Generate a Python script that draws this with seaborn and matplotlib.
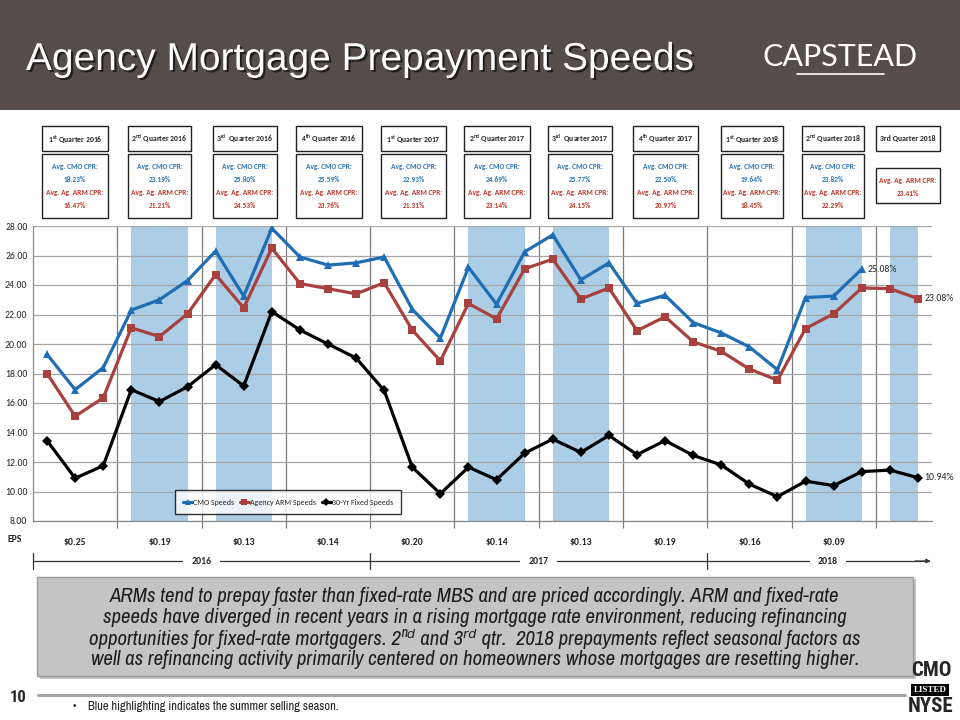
import numpy as np
import pandas as pd
import matplotlib
matplotlib.use("Agg")
import matplotlib.pyplot as plt
import seaborn as sns
from matplotlib import font_manager as fm
from matplotlib.patches import Rectangle
from matplotlib.lines import Line2D
from matplotlib.transforms import blended_transform_factory
import matplotlib.patheffects as pe

# ---------------- data ----------------
months = pd.date_range("2016-01-01", "2018-08-01", freq="MS").strftime("%b %Y").tolist()
cmo_speeds = [19.3, 16.9, 18.4, 22.3, 23.0, 24.3, 26.3, 23.25, 27.85, 25.9, 25.35, 25.5,
              25.9, 22.35, 20.4, 25.2, 22.7, 26.25, 27.4, 24.35, 25.5, 22.75, 23.3, 21.45,
              20.75, 19.8, 18.25, 23.15, 23.25, 25.08, np.nan, np.nan]
arm_speeds = [18.0, 15.1, 16.35, 21.1, 20.5, 22.05, 24.7, 22.45, 26.5, 24.1, 23.75, 23.4,
              24.15, 20.95, 18.85, 22.75, 21.7, 25.1, 25.75, 23.05, 23.8, 20.9, 21.85, 20.15,
              19.5, 18.3, 17.55, 21.05, 22.05, 23.8, 23.75, 23.08]
fixed_speeds = [13.45, 10.9, 11.75, 16.9, 16.1, 17.1, 18.6, 17.15, 22.2, 20.95, 20.0, 19.05,
                16.85, 11.65, 9.85, 11.65, 10.8, 12.6, 13.55, 12.65, 13.8, 12.5, 13.45, 12.45,
                11.8, 10.5, 9.65, 10.7, 10.4, 11.35, 11.45, 10.94]
series_names = ["CMO Speeds", "Agency ARM Speeds", "30-Yr Fixed Speeds"]

end_labels = ["25.08%", "23.08%", "10.94%"]

eps_values = ["$0.25", "$0.19", "$0.13", "$0.14", "$0.20", "$0.14", "$0.13", "$0.19", "$0.16", "$0.09"]
years = ["2016", "2017", "2018"]

quarter_titles = [r"1$^{\mathregular{st}}$ Quarter 2016", r"2$^{\mathregular{nd}}$ Quarter 2016",
                  r"3$^{\mathregular{rd}}$  Quarter 2016", r"4$^{\mathregular{th}}$ Quarter 2016",
                  r"1$^{\mathregular{st}}$ Quarter 2017", r"2$^{\mathregular{nd}}$ Quarter 2017",
                  r"3$^{\mathregular{rd}}$  Quarter 2017", r"4$^{\mathregular{th}}$ Quarter 2017",
                  r"1$^{\mathregular{st}}$ Quarter 2018", r"2$^{\mathregular{nd}}$ Quarter 2018",
                  "3rd Quarter 2018"]
quarter_cmo = ["18.23%", "23.19%", "25.80%", "25.59%", "22.93%", "24.69%", "25.77%",
               "22.50%", "19.64%", "23.82%", None]
quarter_arm = ["16.47%", "21.21%", "24.53%", "23.76%", "21.31%", "23.14%", "24.15%",
               "20.97%", "18.45%", "22.29%", "23.41%"]

note_lines = [
    "ARMs tend to prepay faster than fixed-rate MBS and are priced accordingly. ARM and fixed-rate",
    "speeds have diverged in recent years in a rising mortgage rate environment, reducing refinancing",
    "opportunities for fixed-rate mortgagers. 2\u207f\u1d48 and 3\u02b3\u1d48 qtr.  2018 prepayments reflect seasonal factors as",
    "well as refinancing activity primarily centered on homeowners whose mortgages are resetting higher.",
]

# summer season (month index ranges, Q2 and Q3 of each year)
summer_ranges = [(3, 5), (6, 8), (15, 17), (18, 20), (27, 29), (30, 31)]

# ---------------- fonts ----------------
available = {f.name for f in fm.fontManager.ttflist}
def pick(prefs, fallback="Liberation Sans"):
    for p in prefs:
        if p in available:
            return [p, "DejaVu Sans"]
    return [fallback, "DejaVu Sans"]

CALIBRI = pick(["Carlito", "Calibri", "Roboto Condensed", "IBM Plex Sans Condensed"])
NARROW = pick(["Liberation Sans Narrow", "Arial Narrow", "Archivo Narrow", "Roboto Condensed",
               "IBM Plex Sans Condensed"])
BOLDN = pick(["Roboto Condensed", "IBM Plex Sans Condensed", "Carlito"])
TITLE = ["Liberation Sans", "DejaVu Sans"]

# ---------------- style ----------------
sns.set_theme(style="white")
plt.rcParams['font.family'] = TITLE

W, H = 960, 720
def fx(x): return x / W
def fy(y): return 1 - y / H

colors = {"CMO Speeds": "#1f6db5", "Agency ARM Speeds": "#a8403e", "30-Yr Fixed Speeds": "#000000"}
markers = {"CMO Speeds": "^", "Agency ARM Speeds": "s", "30-Yr Fixed Speeds": "D"}

fig = plt.figure(figsize=(9.6, 7.2), dpi=100)
fig.patch.set_facecolor("white")

# header band
fig.patches.append(Rectangle((0, fy(110)), 1, 110 / H, transform=fig.transFigure,
                             facecolor="#554d4a", edgecolor="none", zorder=0))
fig.text(fx(26), fy(60), "Agency Mortgage Prepayment Speeds", color="white", fontsize=28,
         family=TITLE, va="center", ha="left",
         path_effects=[pe.withSimplePatchShadow(offset=(1.5, -1.5), shadow_rgbFace="black", alpha=0.6)])
fig.text(fx(840), fy(57), "CAPSTEAD", color="white", fontsize=22, family=pick(["Lato"]),
         fontweight="normal", va="center", ha="center")
fig.add_artist(Line2D([fx(797), fx(884)], [fy(74), fy(74)], color="white", lw=1.2,
                      transform=fig.transFigure))

# ---------------- chart ----------------
ax = fig.add_axes([fx(33), fy(521), (932 - 33) / W, (521 - 226) / H])
idx = np.arange(len(months))
df = pd.DataFrame({"idx": np.tile(idx, 3),
                   "value": cmo_speeds + arm_speeds + fixed_speeds,
                   "series": np.repeat(series_names, len(months))}).dropna()

for a, b in summer_ranges:
    ax.axvspan(a, b, color="#abcde6", lw=0, zorder=0)

sns.lineplot(data=df, x="idx", y="value", hue="series", style="series",
             hue_order=series_names, palette=colors, markers=markers, dashes=False,
             linewidth=2.3, markersize=5.5, markeredgewidth=0, legend=False,
             errorbar=None, sort=False, ax=ax, zorder=3)

ax.set_xlim(-0.5, len(months) - 0.5)
ax.set_ylim(8, 28)
ax.set_yticks(np.arange(8, 28.1, 2))
ax.set_yticklabels([f"{v:.2f}" for v in np.arange(8, 28.1, 2)], fontsize=7, family=CALIBRI)
qb = np.arange(2.5, len(months) - 1, 3)
ax.set_xticks(qb)
ax.set_xticklabels([])
ax.set_xlabel("")
ax.set_ylabel("")
ax.set_axisbelow(True)
ax.yaxis.grid(True, color="#a6a6a6", lw=0.9)
ax.xaxis.grid(True, color="#7a7a7a", lw=0.9)
ax.tick_params(axis="x", length=5, color="#7a7a7a", width=0.9, direction="out", bottom=True)
ax.tick_params(axis="y", length=0, pad=4)
for s in ["top", "right"]:
    ax.spines[s].set_visible(False)
for s in ["left", "bottom"]:
    ax.spines[s].set_color("#8c8c8c")
    ax.spines[s].set_linewidth(0.9)
ax.set_facecolor("white")

# end labels
ends = [(29, cmo_speeds[29], end_labels[0]), (31, arm_speeds[31], end_labels[1]),
        (31, fixed_speeds[31], end_labels[2])]
for xi, yv, lab in ends:
    ax.text(xi + 0.22, yv, lab, fontsize=7, family=CALIBRI, va="center", ha="left")

# legend
handles = [Line2D([], [], color=colors[n], marker=markers[n], lw=2.3, markersize=4.5,
                  markeredgewidth=0) for n in series_names]
leg = fig.legend(handles, series_names, loc="center", bbox_to_anchor=(fx(288), fy(502)),
                 ncol=3, prop={'family': CALIBRI, 'size': 5.8}, frameon=True, fancybox=False,
                 edgecolor="black", handlelength=1.1, columnspacing=0.7, handletextpad=0.15,
                 borderpad=1.0)
leg.get_frame().set_linewidth(1.0)

# EPS and year rows (x in data coordinates)
tr = blended_transform_factory(ax.transData, fig.transFigure)
fig.text(fx(8), fy(539), "EPS", fontsize=7, family=CALIBRI, fontweight="bold", va="center")
for q, e in enumerate(eps_values):
    ax.text(3 * q + 1, fy(542), e, transform=tr, fontsize=7, family=CALIBRI,
            fontweight="bold", ha="center", va="center", clip_on=False)
ylin = fy(561)
ax.add_line(Line2D([-0.5, len(months) - 0.6], [ylin, ylin], transform=tr, color="#333333",
                   lw=0.9, clip_on=False))
for b in [-0.5, 11.5, 23.5]:
    ax.add_line(Line2D([b, b], [fy(553), fy(569)], transform=tr, color="#333333", lw=0.9,
                       clip_on=False))
ax.annotate("", xy=(len(months) - 0.45, ylin), xytext=(len(months) - 1.2, ylin),
            xycoords=tr, textcoords=tr,
            arrowprops=dict(arrowstyle="-|>", color="#333333", lw=0.9, mutation_scale=6))
year_centers = [5.5, 17.5, 27.8]
for yc, yr in zip(year_centers, years):
    ax.text(yc, ylin, yr, transform=tr, fontsize=7, family=CALIBRI, fontweight="bold",
            ha="center", va="center", clip_on=False,
            bbox=dict(facecolor="white", edgecolor="none", pad=6))

# quarter boxes
box_left = [42, 128, 213, 296, 381, 464, 548, 633, 721, 802, 876]
box_right = [108, 191, 277, 362, 446, 530, 612, 698, 783, 864, 940]
blue_txt = "#2e75b6"
red_txt = "#c0392b"
HFS = 5.6
BFS = 5.3
for i in range(len(quarter_titles)):
    l, r = box_left[i], box_right[i]
    cx = (l + r) / 2
    fig.patches.append(Rectangle((fx(l), fy(151)), (r - l) / W, 25 / H, transform=fig.transFigure,
                                 facecolor="white", edgecolor="#222222", lw=1.0))
    fig.text(fx(cx), fy(139), quarter_titles[i], fontsize=HFS, family=CALIBRI, fontweight="bold",
             ha="center", va="center")
    if quarter_cmo[i] is not None:
        fig.patches.append(Rectangle((fx(l), fy(218)), (r - l) / W, 64 / H,
                                     transform=fig.transFigure, facecolor="white",
                                     edgecolor="#222222", lw=1.0))
        fig.text(fx(cx), fy(166), "Avg. CMO CPR:", fontsize=BFS, family=CALIBRI,
                 fontweight="bold", color=blue_txt, ha="center", va="center")
        fig.text(fx(cx), fy(179), quarter_cmo[i], fontsize=BFS, family=CALIBRI,
                 fontweight="bold", color=blue_txt, ha="center", va="center")
        fig.text(fx(cx), fy(192), "Avg. Ag. ARM CPR:", fontsize=BFS, family=CALIBRI,
                 fontweight="bold", color=red_txt, ha="center", va="center")
        fig.text(fx(cx), fy(205), quarter_arm[i], fontsize=BFS, family=CALIBRI,
                 fontweight="bold", color=red_txt, ha="center", va="center")
    else:
        fig.patches.append(Rectangle((fx(l), fy(203)), (r - l) / W, 35 / H,
                                     transform=fig.transFigure, facecolor="white",
                                     edgecolor="#222222", lw=1.0))
        fig.text(fx(cx), fy(180), "Avg. Ag. ARM CPR:", fontsize=BFS, family=CALIBRI,
                 fontweight="bold", color=red_txt, ha="center", va="center")
        fig.text(fx(cx), fy(193), quarter_arm[i], fontsize=BFS, family=CALIBRI,
                 fontweight="bold", color=red_txt, ha="center", va="center")

# ---------------- bottom text box ----------------
fig.patches.append(Rectangle((fx(40), fy(679)), (916 - 40) / W, 100 / H, transform=fig.transFigure,
                             facecolor="#888888", edgecolor="none", alpha=0.5))
fig.patches.append(Rectangle((fx(37), fy(676)), (913 - 37) / W, 99 / H, transform=fig.transFigure,
                             facecolor="#c4c4c4", edgecolor="#9a9a9a", lw=1.0))
for k, line in enumerate(note_lines):
    fig.text(fx(475), fy(596 + 21.3 * k), line, fontsize=15, family=NARROW, style="italic",
             color="#1e1e1e", ha="center", va="center")

# footer
fig.text(fx(10), fy(697), "10", fontsize=12, fontweight="bold", family=BOLDN, va="center")
fig.add_artist(Line2D([fx(38), fx(905)], [fy(695), fy(695)], color="#a6a6a6", lw=2.2,
                      transform=fig.transFigure))
fig.text(fx(73), fy(707), "\u2022    Blue highlighting indicates the summer selling season.",
         fontsize=9, family=NARROW, va="center", color="#222222")
fig.text(fx(931), fy(671), "CMO", fontsize=15, fontweight="bold", family=BOLDN, ha="center",
         va="center")
fig.text(fx(930), fy(690), "LISTED", fontsize=6.5, fontweight="bold", family=['Liberation Serif'],
         color="white", ha="center", va="center",
         bbox=dict(facecolor="black", edgecolor="none", pad=1.5))
fig.text(fx(931), fy(707), "NYSE", fontsize=15, fontweight="bold", family=BOLDN, ha="center",
         va="center")

fig.savefig("out.png", dpi=100)
